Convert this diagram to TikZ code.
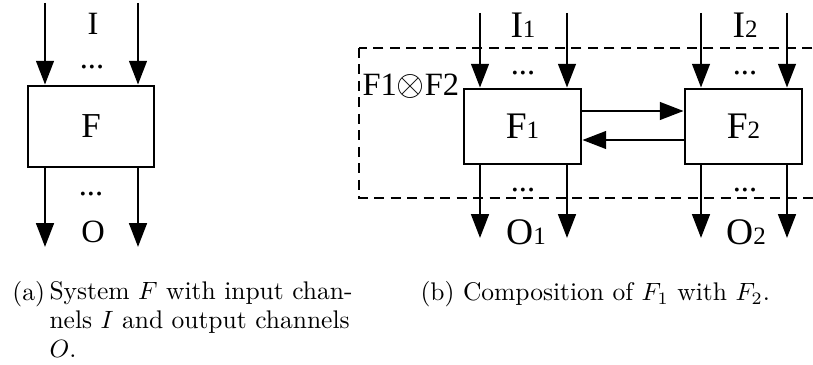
\documentclass[tikz,border=0pt]{standalone}
\usepackage{amsmath}
\usepackage{amssymb}
\usepackage{fontspec}
\newfontfamily\dfont{Liberation Serif}
\usetikzlibrary{calc,arrows.meta}

\tikzset{
  sys/.style={draw, line width=1.1pt, minimum width=#1, minimum height=30pt, inner sep=0pt, font=\dfont\fontsize{15}{17}\selectfont},
  arr/.style={line width=1.1pt, -{Triangle[length=9.5pt,width=7pt]}},
  lbl/.style={font=\dfont\fontsize{13}{15}\selectfont, inner sep=0pt},
  blbl/.style={font=\dfont\fontsize{15}{17}\selectfont, inner sep=0pt},
  capt/.style={font=\fontsize{10.2}{11.6}\selectfont, inner sep=0pt, anchor=north west, align=left}
}
\newcommand{\sub}[1]{{\fontsize{10}{11}\selectfont #1}}

\begin{document}
\begin{tikzpicture}[x=0.4pt, y=-0.4pt]
  \clip (0,0) rectangle (813,365);
  % (a) single system
  \node[sys=50.4pt, minimum height=32.4pt, font=\dfont\fontsize{14}{16}\selectfont] (f) at (91,126.5) {F};
  \coordinate (ia) at (45,3); \coordinate (ib) at (138,3);
  \coordinate (oa) at (45,247); \coordinate (ob) at (138,247);
  \draw[arr] (ia) -- (ia |- f.north); \draw[arr] (ib) -- (ib |- f.north);
  \draw[arr] (oa |- f.south) -- (oa); \draw[arr] (ob |- f.south) -- (ob);
  \node[lbl] at (93,24) {I}; \node[lbl] at (92,67) {...};
  \node[lbl] at (91,194) {...}; \node[lbl] at (93,232) {O};

  % (b) composition
  \draw[line width=1.1pt, dash pattern=on 4pt off 2.6pt] (359,48) rectangle (840,198);
  \node[sys=46.8pt] (f1) at (522.5,126.5) {F\sub{1}};
  \node[sys=46.8pt] (f2) at (743.5,126.5) {F\sub{2}};
  \foreach \x/\n in {480/a,567/b,701/c,787/d}{
    \coordinate (t\n) at (\x,13); \coordinate (b\n) at (\x,238);
  }
  \draw[arr] (ta) -- (ta |- f1.north); \draw[arr] (tb) -- (tb |- f1.north);
  \draw[arr] (tc) -- (tc |- f2.north); \draw[arr] (td) -- (td |- f2.north);
  \draw[arr] (ba |- f1.south) -- (ba); \draw[arr] (bb |- f1.south) -- (bb);
  \draw[arr] (bc |- f2.south) -- (bc); \draw[arr] (bd |- f2.south) -- (bd);
  \draw[arr] ([yshift=6.2pt]f1.east) -- ([yshift=6.2pt]f2.west);
  \draw[arr] ([yshift=-5.4pt]f2.west) -- ([yshift=-5.4pt]f1.east);
  \node[blbl] at (523,25) {I\sub{1}}; \node[blbl] at (745,25) {I\sub{2}};
  \node[lbl] at (523,73) {...}; \node[lbl] at (745,73) {...};
  \node[lbl] at (523,190) {...}; \node[lbl] at (745,190) {...};
  \node[blbl] at (526,232) {O\sub{1}}; \node[blbl] at (746,232) {O\sub{2}};
  \node[lbl, anchor=west] at (362,86) {F1{\fontsize{15}{15}\selectfont$\otimes$}F2};

  % captions
  \node[capt] at (12,281) {(a)};
  \node[capt] at (49,281) {System $F$ with input chan-\\nels $I$ and output channels\\$O$.};
  \node[capt] at (420,281) {(b) Composition of $F_1$ with $F_2$.};
\end{tikzpicture}
\end{document}
